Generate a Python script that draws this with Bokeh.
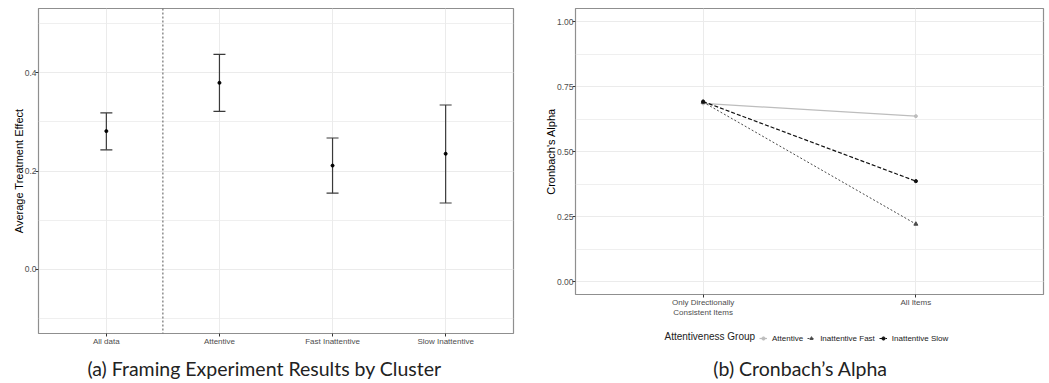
from bokeh.plotting import figure
from bokeh.layouts import row, column
from bokeh.models import (Range1d, FixedTicker, SingleIntervalTicker, NumeralTickFormatter,
                          Whisker, TeeHead, ColumnDataSource, Span, Label, Legend, LegendItem)
from bokeh.embed import file_html
from bokeh.resources import INLINE

# ---------------- data: panel (a) ----------------
groups = ["All data", "Attentive", "Fast Inattentive", "Slow Inattentive"]
ate = [0.281, 0.379, 0.211, 0.235]
ci_low = [0.243, 0.321, 0.155, 0.135]
ci_high = [0.318, 0.437, 0.267, 0.334]

# ---------------- data: panel (b) ----------------
item_sets = ["Only Directionally\nConsistent Items", "All Items"]
series_names = ["Attentive", "Inattentive Fast", "Inattentive Slow"]
alpha_attentive = [0.685, 0.636]
alpha_fast = [0.690, 0.221]
alpha_slow = [0.692, 0.386]

legend_title = "Attentiveness Group"
caption_a = "(a) Framing Experiment Results by Cluster"
caption_b = "(b) Cronbach\u2019s Alpha"

FONT = "Liberation Sans"
CAP_FONT = "Lato"
GRID = "#ebebeb"
TICK_LABEL = "#4d4d4d"
BORDER = "#8f8f8f"

# series styles
S_ATT = dict(color="#bdbdbd", dash="solid", marker="circle", size=3, width=1.2)
S_FAST = dict(color="#4a4a4a", dash="2 2", marker="triangle", size=4, width=1.0)
S_SLOW = dict(color="#111111", dash="4 2", marker="circle", size=3.2, width=1.2)
SERIES = [(alpha_attentive, S_ATT), (alpha_fast, S_FAST), (alpha_slow, S_SLOW)]


def no_align(p):
    if "frame_align" in p.properties():
        p.frame_align = False


def style(p, xticks, labels, yticker, yfmt):
    no_align(p)
    p.background_fill_color = "white"
    p.border_fill_color = "white"
    p.outline_line_color = BORDER
    p.outline_line_width = 1.2
    xa = p.xaxis[0]
    ya = p.yaxis[0]
    xa.ticker = FixedTicker(ticks=xticks, minor_ticks=[])
    xa.major_label_overrides = {t: l for t, l in zip(xticks, labels)}
    ya.ticker = yticker
    ya.formatter = NumeralTickFormatter(format=yfmt)
    for ax in (xa, ya):
        ax.axis_line_color = None
        ax.major_tick_line_color = "#333333"
        ax.major_tick_in = 0
        ax.major_tick_out = 3
        ax.minor_tick_line_color = None
        ax.major_label_text_font = FONT
        ax.major_label_text_color = TICK_LABEL
        ax.axis_label_text_font = FONT
        ax.axis_label_text_font_style = "normal"
        ax.axis_label_text_color = "black"
        ax.axis_label_text_font_size = "11px"
    xa.major_label_standoff = 0
    ya.major_label_standoff = -2
    ya.axis_label_standoff = -3
    xa.major_label_text_font_size = "8px"
    ya.major_label_text_font_size = "8.5px"
    p.xgrid.grid_line_color = GRID
    p.ygrid.grid_line_color = GRID
    p.ygrid.minor_grid_line_color = GRID
    p.ygrid.minor_grid_line_width = 0.8


def text_strip(width, height):
    s = figure(width=width, height=height, x_range=Range1d(0, 1), y_range=Range1d(0, 1),
               x_axis_type=None, y_axis_type=None, output_backend="svg",
               toolbar_location=None, min_border_left=0, min_border_right=0,
               min_border_top=0, min_border_bottom=0)
    no_align(s)
    s.outline_line_color = None
    s.background_fill_color = "white"
    s.border_fill_color = "white"
    return s


def caption(text, x):
    return Label(x=x, y=15, x_units="screen", y_units="screen", text=text,
                 text_font=CAP_FONT, text_font_size="19.5px", text_color="#222222",
                 text_align="center", text_baseline="middle")


# ---------------- panel (a) ----------------
xa_pos = [float(i + 1) for i in range(len(groups))]
p1 = figure(width=530, height=349, x_range=Range1d(0.4, len(groups) + 0.6),
            y_range=Range1d(-0.13, 0.53), output_backend="svg", toolbar_location=None,
            min_border_left=38, min_border_right=17, min_border_top=8, min_border_bottom=16)
style(p1, xa_pos, groups, SingleIntervalTicker(interval=0.2, num_minor_ticks=2), "0.0")
p1.yaxis.axis_label = "Average Treatment Effect"

src = ColumnDataSource(dict(x=xa_pos, ate=ate, lo=ci_low, hi=ci_high))
EB = "#3a3a3a"
p1.add_layout(Whisker(base="x", upper="hi", lower="lo", source=src,
                      line_color=EB, line_width=1.2,
                      upper_head=TeeHead(size=12, line_color=EB, line_width=1.2),
                      lower_head=TeeHead(size=12, line_color=EB, line_width=1.2)))
p1.scatter("x", "ate", source=src, size=3, color="black")
p1.add_layout(Span(location=(xa_pos[0] + xa_pos[1]) / 2, dimension="height",
                   line_color="#555555", line_dash="2 2", line_width=1))

cap1 = text_strip(530, 34)
cap1.add_layout(caption(caption_a, 264))

# ---------------- panel (b) ----------------
xb_pos = [float(i + 1) for i in range(len(item_sets))]
p2 = figure(width=519, height=321, x_range=Range1d(0.4, len(item_sets) + 0.6),
            y_range=Range1d(-0.05, 1.05), output_backend="svg", toolbar_location=None,
            min_border_left=45, min_border_right=6, min_border_top=8, min_border_bottom=27)
style(p2, xb_pos, item_sets, SingleIntervalTicker(interval=0.25, num_minor_ticks=2), "0.00")
p2.yaxis.axis_label = "Cronbach's Alpha"

for vals, st in SERIES:
    p2.line(xb_pos, vals, line_color=st["color"], line_width=st["width"], line_dash=st["dash"])
    p2.scatter(xb_pos, vals, marker=st["marker"], size=st["size"], color=st["color"])

# legend + caption strip under panel (b); the legend keys come from hidden copies of the series
leg2 = text_strip(519, 62)
items = []
for name, (vals, st) in zip(series_names, SERIES):
    rl = leg2.line(xb_pos, vals, line_color=st["color"], line_width=st["width"],
                   line_dash=st["dash"], visible=False)
    rp = leg2.scatter(xb_pos, vals, marker=st["marker"], size=st["size"], color=st["color"],
                      visible=False)
    items.append(LegendItem(label=name, renderers=[rl, rp]))
legend = Legend(items=items, orientation="horizontal", location=(229, 40),
                label_text_font=FONT, label_text_font_size="8px", label_text_color="#222222",
                glyph_width=8, glyph_height=10, label_standoff=5, label_height=10,
                label_width=10, spacing=4, padding=2, margin=0,
                border_line_color=None, background_fill_alpha=0)
leg2.add_layout(legend, "center")
leg2.add_layout(Label(x=134, y=47, x_units="screen", y_units="screen", text=legend_title,
                      text_font=FONT, text_font_size="10px", text_color="#222222",
                      text_align="left", text_baseline="middle"))
leg2.add_layout(caption(caption_b, 270))

layout = row(column(p1, cap1), column(p2, leg2))
open("out.html", "w").write(file_html(layout, INLINE))
